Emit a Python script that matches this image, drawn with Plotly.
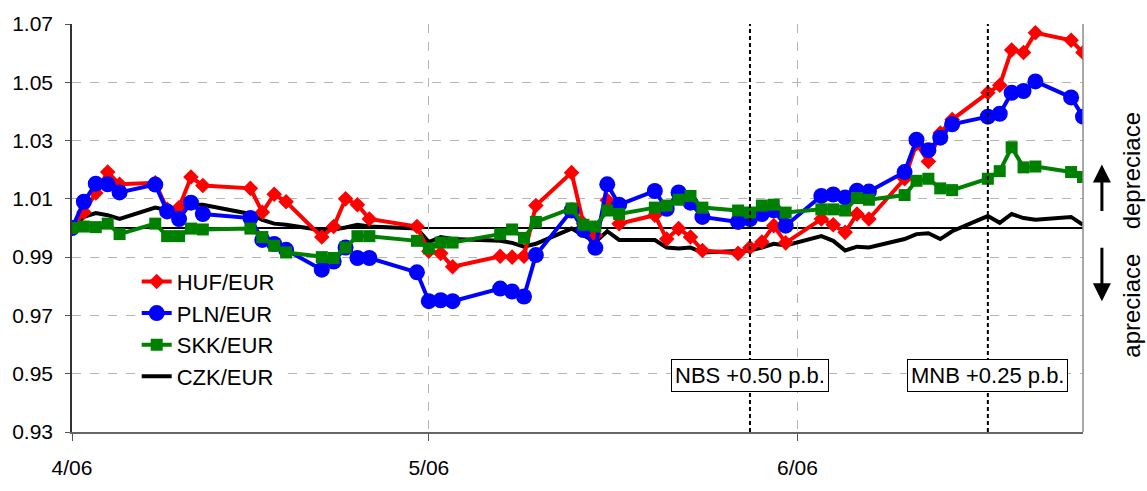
import plotly.graph_objects as go

# ---- data -------------------------------------------------------------
dates = [
    "2006-04-03", "2006-04-04", "2006-04-05", "2006-04-06", "2006-04-07",
    "2006-04-10", "2006-04-11", "2006-04-12", "2006-04-13", "2006-04-14",
    "2006-04-18", "2006-04-19", "2006-04-20", "2006-04-21",
    "2006-04-24", "2006-04-25", "2006-04-26", "2006-04-27", "2006-04-28",
    "2006-05-02", "2006-05-03", "2006-05-04", "2006-05-05",
    "2006-05-09", "2006-05-10", "2006-05-11", "2006-05-12",
    "2006-05-15", "2006-05-16", "2006-05-17", "2006-05-18", "2006-05-19",
    "2006-05-22", "2006-05-23", "2006-05-24", "2006-05-25", "2006-05-26",
    "2006-05-29", "2006-05-30", "2006-05-31", "2006-06-01", "2006-06-02",
    "2006-06-05", "2006-06-06", "2006-06-07", "2006-06-08", "2006-06-09",
    "2006-06-12", "2006-06-13", "2006-06-14", "2006-06-15", "2006-06-16",
    "2006-06-19", "2006-06-20", "2006-06-21", "2006-06-22", "2006-06-23",
    "2006-06-26", "2006-06-27",
]

huf = [
    1.000, 1.0054, 1.012, 1.0192, 1.015,
    1.0155, 1.0064, 1.007, 1.0175, 1.0146,
    1.0136, 1.0054, 1.0116, 1.009,
    0.9969, 1.0005, 1.010, 1.008, 1.0031,
    1.0005, 0.992, 0.9913, 0.9867,
    0.9903, 0.990, 0.9903, 1.0077,
    1.019, 1.0015, 0.9975, 1.0095, 1.0015,
    1.0044, 0.9962, 0.9998, 0.9969, 0.9923,
    0.9913, 0.9933, 0.9952, 1.0008, 0.9949,
    1.0031, 1.0011, 0.9985, 1.0048, 1.0031,
    1.0169, 1.029, 1.0228, 1.0326, 1.0372,
    1.0464, 1.049, 1.0611, 1.0602, 1.067,
    1.0644, 1.0602,
]

pln = [
    1.000, 1.009, 1.0152, 1.015, 1.0122,
    1.0149, 1.0057, 1.0031, 1.0087, 1.0048,
    1.0034, 0.9959, 0.9945, 0.9925,
    0.9857, 0.9885, 0.9933, 0.9897, 0.9897,
    0.9848, 0.9749, 0.9752, 0.9749,
    0.9792, 0.9782, 0.9765, 0.9907,
    1.006, 0.9993, 0.9932, 1.015, 1.008,
    1.0127, 1.0066, 1.0122, 1.0087, 1.0038,
    1.0021, 1.0031, 1.0048, 1.0061, 1.0008,
    1.011, 1.0115, 1.0105, 1.0128, 1.0125,
    1.0192, 1.0303, 1.0267, 1.031, 1.0356,
    1.0382, 1.0392, 1.0464, 1.047, 1.0503,
    1.0448, 1.0382,
]

skk = [
    1.000, 1.0005, 1.0003, 1.0015, 0.9979,
    1.0015, 0.9972, 0.9972, 0.9998, 0.9995,
    0.9998, 0.9969, 0.9939, 0.9916,
    0.990, 0.9897, 0.9933, 0.9972, 0.9972,
    0.9956, 0.993, 0.995, 0.995,
    0.9979, 0.9995, 0.9966, 1.0021,
    1.0067, 1.0011, 1.0005, 1.006, 1.0048,
    1.007, 1.0077, 1.0097, 1.011, 1.007,
    1.006, 1.0053, 1.0077, 1.008, 1.0053,
    1.0064, 1.0064, 1.006, 1.0103, 1.0097,
    1.0113, 1.0162, 1.0169, 1.0136, 1.013,
    1.0169, 1.0195, 1.0277, 1.0208, 1.0211,
    1.0192, 1.0175,
]

czk = [
    1.000, 1.0038, 1.0051, 1.0044, 1.0031,
    1.007, 1.0061, 1.0048, 1.008, 1.008,
    1.0048, 1.0028, 1.0015, 1.0011,
    0.9992, 0.9995, 1.0002, 1.0011, 1.0005,
    0.9998, 0.9952, 0.9969, 0.9962,
    0.9956, 0.9949, 0.9936, 0.9946,
    0.9998, 0.9975, 0.9952, 0.9989, 0.9959,
    0.9959, 0.9933, 0.993, 0.9933, 0.9916,
    0.9923, 0.9923, 0.9933, 0.9946, 0.994,
    0.9972, 0.9956, 0.9923, 0.9936, 0.9933,
    0.9962, 0.9979, 0.9982, 0.9962, 0.9989,
    1.0041, 1.0018, 1.0048, 1.0034, 1.0028,
    1.0038, 1.0011,
]

x_tick_vals = ["2006-04-03", "2006-05-03", "2006-06-03"]
x_tick_text = ["4/06", "5/06", "6/06"]
y_tick_vals = [0.93, 0.95, 0.97, 0.99, 1.01, 1.03, 1.05, 1.07]

events = [("2006-05-30", "NBS +0.50 p.b."), ("2006-06-19", "MNB +0.25 p.b.")]

FONT = "Liberation Sans, Arial, sans-serif"

fig = go.Figure()

fig.add_trace(go.Scatter(
    x=dates, y=czk, name="CZK/EUR", mode="lines", legendrank=4,
    line=dict(color="black", width=4),
))
fig.add_trace(go.Scatter(
    x=dates, y=huf, name="HUF/EUR", mode="lines+markers", legendrank=1,
    line=dict(color="#FF0000", width=4),
    marker=dict(symbol="diamond", size=12, color="#FF0000"),
))
fig.add_trace(go.Scatter(
    x=dates, y=pln, name="PLN/EUR", mode="lines+markers", legendrank=2,
    line=dict(color="#0000FF", width=4),
    marker=dict(symbol="circle", size=16, color="#0000FF"),
))
fig.add_trace(go.Scatter(
    x=dates, y=skk, name="SKK/EUR", mode="lines+markers", legendrank=3,
    line=dict(color="#008000", width=4),
    marker=dict(symbol="square", size=12, color="#008000"),
))

# reference line at 1.00
fig.add_shape(type="line", xref="paper", yref="y", x0=0, x1=1, y0=1.0, y1=1.0,
              line=dict(color="black", width=2), layer="below")
# right frame edge
fig.add_shape(type="line", xref="paper", yref="paper", x0=1, x1=1, y0=0, y1=1,
              line=dict(color="#8c8c8c", width=1.5))

for d, label in events:
    fig.add_shape(type="line", xref="x", yref="paper", x0=d, x1=d, y0=0, y1=1,
                  line=dict(color="black", width=2, dash="4px,3px"))
    fig.add_annotation(x=d, y=0.9495, xref="x", yref="y", text=label,
                       showarrow=False, font=dict(family=FONT, size=22, color="black"),
                       bgcolor="white", bordercolor="black", borderwidth=1, borderpad=3)

# depreciation / appreciation arrows and labels
fig.add_annotation(x=1.0187, y=1.0218, xref="paper", yref="y", ax=0, ay=48,
                   axref="pixel", ayref="pixel", text="", showarrow=True,
                   arrowhead=2, arrowsize=1.2, arrowwidth=3, arrowcolor="black")
fig.add_annotation(x=1.0187, y=0.9749, xref="paper", yref="y", ax=0, ay=-55,
                   axref="pixel", ayref="pixel", text="", showarrow=True,
                   arrowhead=2, arrowsize=1.2, arrowwidth=3, arrowcolor="black")
fig.add_annotation(x=1.0630, y=1.0195, xref="paper", yref="y", text="depreciace",
                   textangle=-90, showarrow=False,
                   font=dict(family=FONT, size=24, color="black"))
fig.add_annotation(x=1.0630, y=0.9734, xref="paper", yref="y", text="apreciace",
                   textangle=-90, showarrow=False,
                   font=dict(family=FONT, size=24, color="black"))

fig.update_layout(
    width=1147, height=491,
    margin=dict(l=67, r=64, t=23, b=41),
    paper_bgcolor="white", plot_bgcolor="white",
    font=dict(family=FONT, size=21, color="black"),
    showlegend=True,
    legend=dict(x=0.064, y=0.42, xanchor="left", yanchor="top",
                bgcolor="white", borderwidth=0, tracegroupgap=0,
                font=dict(family=FONT, size=22, color="black")),
    xaxis=dict(
        type="date", range=["2006-04-03", "2006-06-27"],
        tickvals=x_tick_vals, ticktext=x_tick_text,
        ticks="outside", ticklen=7, tickwidth=1, tickcolor="#555555",
        showline=True, linecolor="#666666", linewidth=2,
        showgrid=True, gridcolor="#b4b4b4", griddash="dash", gridwidth=1,
        zeroline=False, tickfont=dict(size=21), ticklabelstandoff=9,
    ),
    yaxis=dict(
        range=[0.93, 1.07], tickvals=y_tick_vals, tickformat=".2f",
        ticks="outside", ticklen=5, tickwidth=1, tickcolor="#555555",
        showline=True, linecolor="#333333", linewidth=1.5,
        showgrid=True, gridcolor="#b4b4b4", griddash="dash", gridwidth=1,
        zeroline=False, tickfont=dict(size=21), ticklabelstandoff=8,
    ),
)

fig.write_html("out.html")
